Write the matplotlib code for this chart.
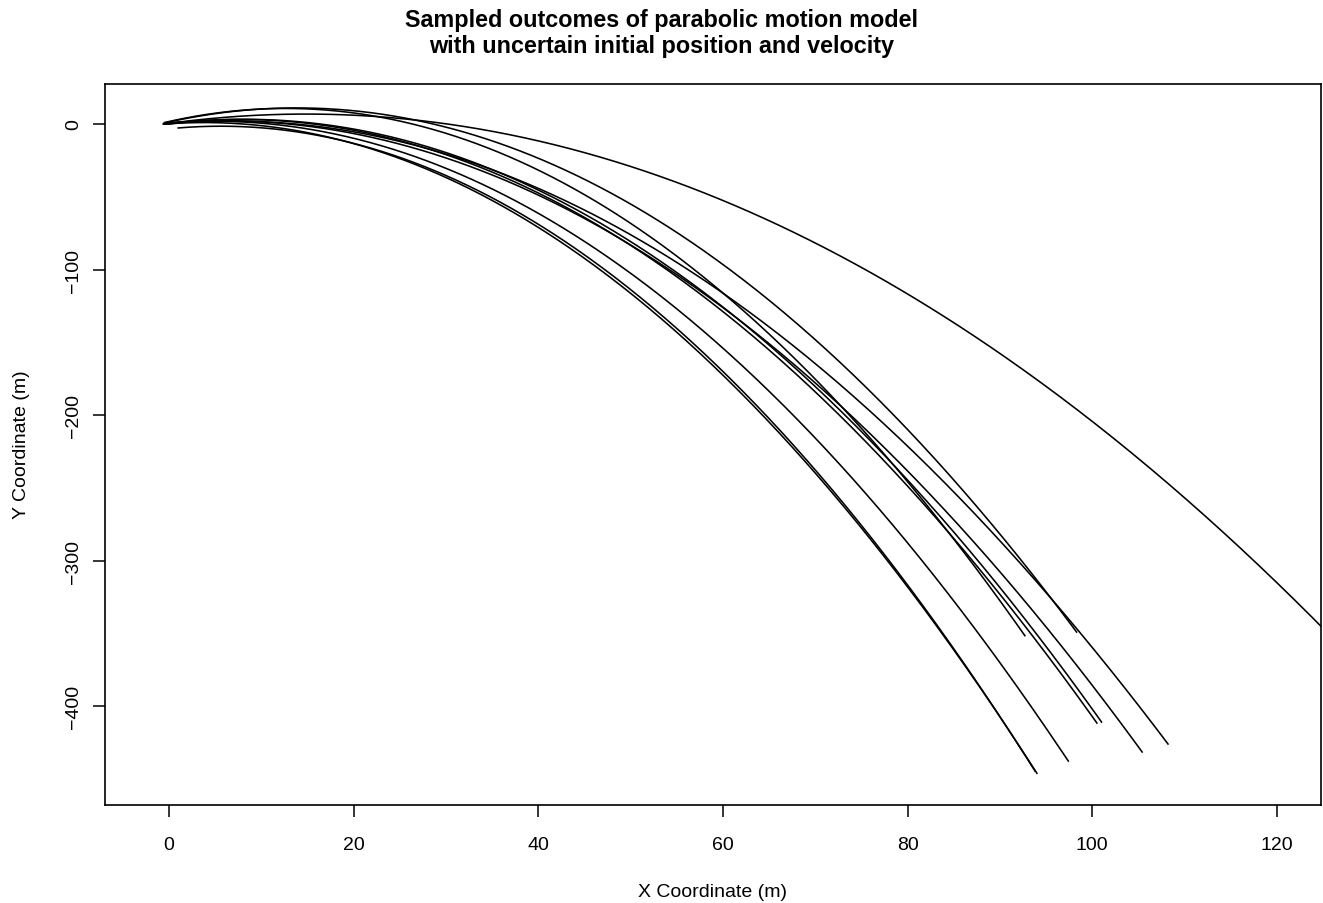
import numpy as np
import matplotlib
matplotlib.use("Agg")
import matplotlib.pyplot as plt

# Sampled initial conditions
x0 = [-0.5, 1.0, -0.3, -0.5, -0.6, 0.0, -0.5, -0.6, -0.3, -0.5]
y0 = [0.0, -2.7, 0.5, 1.0, 0.0, 0.0, 0.5, 0.0, 1.0, 0.0]
vx = [9.45, 9.28, 9.77, 9.32, 10.11, 10.10, 10.59, 10.88, 9.86, 12.98]
vy = [4.45, 4.87, 5.24, 13.80, 7.90, 7.97, 5.86, 6.46, 14.05, 11.59]
t_end = 10.0
g = 9.81

xticks = [0, 20, 40, 60, 80, 100, 120]
yticks = [0, -100, -200, -300, -400]

plt.rcParams['font.family'] = ['Liberation Sans', 'DejaVu Sans']

fig = plt.figure(figsize=(13.23, 9.04), dpi=100)
ax = fig.add_axes([105/1323, 1-806/904, (1321-105)/1323, (806-85)/904])

t = np.linspace(0, t_end, 400)
for i in range(len(x0)):
    xs = x0[i] + vx[i]*t
    ys = y0[i] + vy[i]*t - 0.5*g*t**2
    ax.plot(xs, ys, color='black', linewidth=1.15)

ax.set_xlim(-6.93, 124.77)
ax.set_ylim(-467.8, 27.5)
ax.set_xticks(xticks)
ax.set_yticks(yticks)
ax.set_yticklabels(['0', '\u2212100', '\u2212200', '\u2212300', '\u2212400'])
ax.tick_params(axis='both', direction='out', length=8.3, width=1.1, labelsize=14, colors='black')
ax.tick_params(axis='x', pad=14)
ax.tick_params(axis='y', pad=8)
for lab in ax.get_yticklabels():
    lab.set_rotation(90)
    lab.set_va('center')
for s in ax.spines.values():
    s.set_linewidth(1.2)
    s.set_color('black')

fig.text(0.5, 1-20/904, 'Sampled outcomes of parabolic motion model', ha='center', va='center',
         fontsize=16.8, fontweight='bold')
fig.text(0.5, 1-47/904, 'with uncertain initial position and velocity', ha='center', va='center',
         fontsize=16.8, fontweight='bold')
fig.text(713/1323, 1-893/904, 'X Coordinate (m)', ha='center', va='center', fontsize=14)
fig.text(22/1323, 1-445/904, 'Y Coordinate (m)', ha='center', va='center', fontsize=14, rotation=90)

fig.savefig('out.png', dpi=100, facecolor='white')
